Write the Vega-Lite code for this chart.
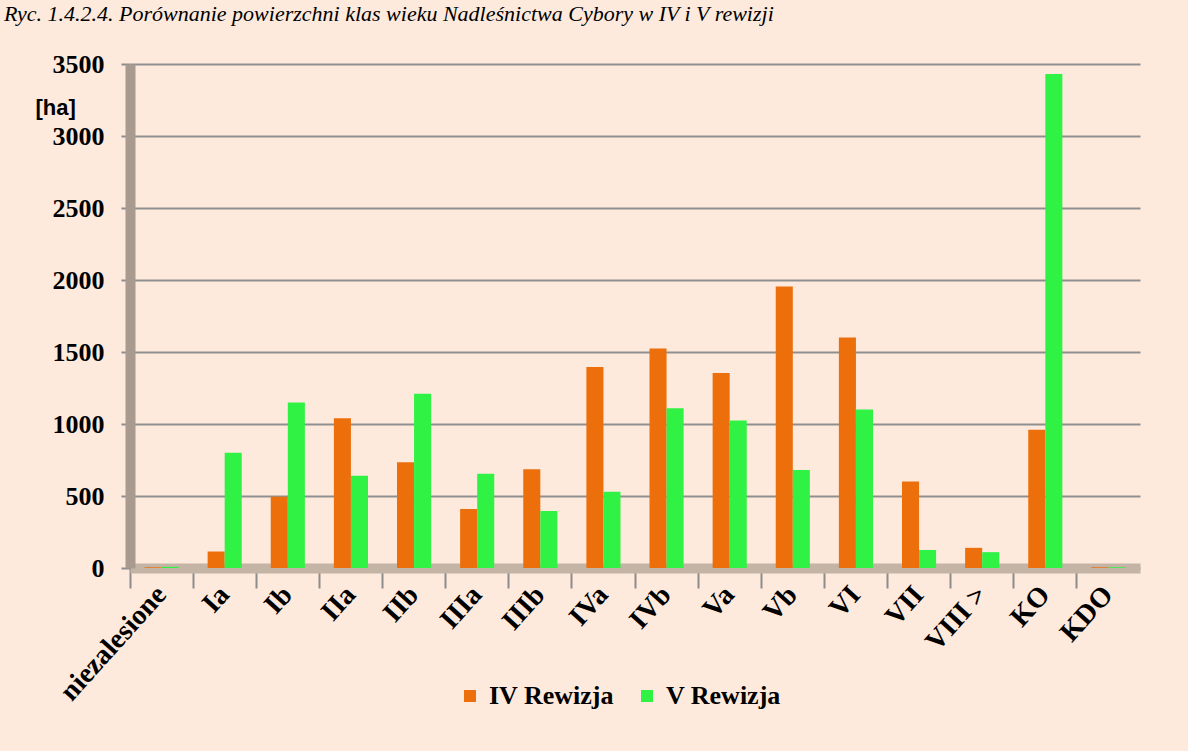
{
  "$schema": "https://vega.github.io/schema/vega-lite/v6.json",
  "autosize": "none",
  "width": 1010,
  "height": 504,
  "padding": {"left": 130, "top": 64, "right": 48, "bottom": 183},
  "background": "#FDEADC",
  "title": {
    "text": "Ryc. 1.4.2.4. Porównanie powierzchni klas wieku Nadleśnictwa Cybory w IV i V rewizji",
    "anchor": "start",
    "frame": "group",
    "orient": "top",
    "dx": -126,
    "offset": 8,
    "baseline": "alphabetic",
    "font": "Liberation Serif",
    "fontStyle": "italic",
    "fontWeight": "normal",
    "fontSize": 22,
    "color": "#000000"
  },
  "data": {
    "values": [
      {"klasa": "niezalesione", "rewizja": "IV Rewizja", "pow": 5},
      {"klasa": "niezalesione", "rewizja": "V Rewizja", "pow": 8},
      {"klasa": "Ia", "rewizja": "IV Rewizja", "pow": 115},
      {"klasa": "Ia", "rewizja": "V Rewizja", "pow": 800},
      {"klasa": "Ib", "rewizja": "IV Rewizja", "pow": 495},
      {"klasa": "Ib", "rewizja": "V Rewizja", "pow": 1150},
      {"klasa": "IIa", "rewizja": "IV Rewizja", "pow": 1040},
      {"klasa": "IIa", "rewizja": "V Rewizja", "pow": 640},
      {"klasa": "IIb", "rewizja": "IV Rewizja", "pow": 735},
      {"klasa": "IIb", "rewizja": "V Rewizja", "pow": 1210},
      {"klasa": "IIIa", "rewizja": "IV Rewizja", "pow": 410},
      {"klasa": "IIIa", "rewizja": "V Rewizja", "pow": 655},
      {"klasa": "IIIb", "rewizja": "IV Rewizja", "pow": 685},
      {"klasa": "IIIb", "rewizja": "V Rewizja", "pow": 395},
      {"klasa": "IVa", "rewizja": "IV Rewizja", "pow": 1395},
      {"klasa": "IVa", "rewizja": "V Rewizja", "pow": 530},
      {"klasa": "IVb", "rewizja": "IV Rewizja", "pow": 1525},
      {"klasa": "IVb", "rewizja": "V Rewizja", "pow": 1110},
      {"klasa": "Va", "rewizja": "IV Rewizja", "pow": 1355},
      {"klasa": "Va", "rewizja": "V Rewizja", "pow": 1025},
      {"klasa": "Vb", "rewizja": "IV Rewizja", "pow": 1955},
      {"klasa": "Vb", "rewizja": "V Rewizja", "pow": 680},
      {"klasa": "VI", "rewizja": "IV Rewizja", "pow": 1600},
      {"klasa": "VI", "rewizja": "V Rewizja", "pow": 1100},
      {"klasa": "VII", "rewizja": "IV Rewizja", "pow": 600},
      {"klasa": "VII", "rewizja": "V Rewizja", "pow": 125},
      {"klasa": "VIII >", "rewizja": "IV Rewizja", "pow": 140},
      {"klasa": "VIII >", "rewizja": "V Rewizja", "pow": 110},
      {"klasa": "KO", "rewizja": "IV Rewizja", "pow": 960},
      {"klasa": "KO", "rewizja": "V Rewizja", "pow": 3430},
      {"klasa": "KDO", "rewizja": "IV Rewizja", "pow": 5},
      {"klasa": "KDO", "rewizja": "V Rewizja", "pow": 5}
    ]
  },
  "mark": {"type": "bar"},
  "encoding": {
    "x": {
      "field": "klasa",
      "type": "nominal",
      "sort": ["niezalesione", "Ia", "Ib", "IIa", "IIb", "IIIa", "IIIb", "IVa", "IVb", "Va", "Vb", "VI", "VII", "VIII >", "KO", "KDO"],
      "scale": {"paddingInner": 0, "paddingOuter": 0},
      "axis": {
        "title": null,
        "bandPosition": 0,
        "labelAngle": -48,
        "labelAlign": "right",
        "labelBaseline": "middle",
        "labelFont": "Liberation Serif",
        "labelFontWeight": "bold",
        "labelFontSize": 28,
        "labelColor": "#000000",
        "labelPadding": 2,
        "tickSize": 20,
        "tickColor": "#8c8c8c",
        "tickWidth": 2,
        "domainColor": "#C4B4A6",
        "domainWidth": 10,
        "grid": false
      }
    },
    "xOffset": {
      "field": "rewizja",
      "type": "nominal",
      "scale": {"paddingInner": 0, "paddingOuter": 0.85}
    },
    "y": {
      "field": "pow",
      "type": "quantitative",
      "scale": {"domain": [0, 3500], "nice": false},
      "axis": {
        "title": "[ha]",
        "titleAngle": 0,
        "titleFont": "Liberation Sans",
        "titleFontWeight": "bold",
        "titleFontSize": 22,
        "titleColor": "#000000",
        "titleAlign": "left",
        "titleBaseline": "middle",
        "titleX": -95,
        "titleY": 43,
        "values": [0, 500, 1000, 1500, 2000, 2500, 3000, 3500],
        "format": "d",
        "labelFont": "Liberation Serif",
        "labelFontWeight": "bold",
        "labelFontSize": 26,
        "labelColor": "#000000",
        "labelPadding": 17,
        "tickSize": 9,
        "tickColor": "#8c8c8c",
        "tickWidth": 2,
        "domainColor": "#A89A8E",
        "domainWidth": 10,
        "grid": true,
        "gridColor": "#8f8f8f",
        "gridWidth": 2
      }
    },
    "color": {
      "field": "rewizja",
      "type": "nominal",
      "scale": {"domain": ["IV Rewizja", "V Rewizja"], "range": ["#EC6F0C", "#30F244"]},
      "legend": {
        "title": null,
        "orient": "none",
        "direction": "horizontal",
        "legendX": 327,
        "legendY": 619,
        "symbolType": "square",
        "symbolSize": 144,
        "symbolStrokeWidth": 0,
        "symbolOpacity": 1,
        "labelFont": "Liberation Serif",
        "labelFontWeight": "bold",
        "labelFontSize": 26,
        "labelColor": "#000000",
        "labelOffset": 6,
        "columnPadding": 20,
        "encode": {
          "labels": {
            "update": {
              "font": {"value": "Liberation Serif"},
              "fontWeight": {"value": "bold"},
              "fontSize": {"value": 26}
            }
          }
        }
      }
    }
  },
  "config": {
    "font": "Liberation Serif",
    "view": {"stroke": null}
  }
}
